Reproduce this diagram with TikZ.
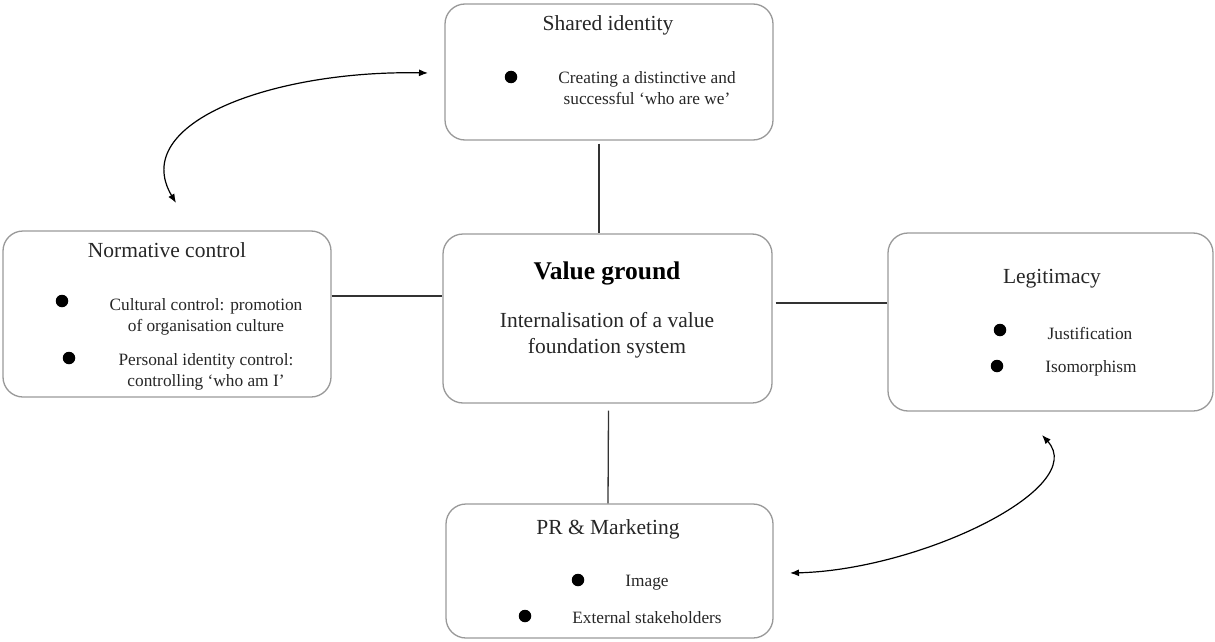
\documentclass[tikz,border=0pt]{standalone}
\usepackage{fontspec}
\setmainfont{Liberation Serif}
\usetikzlibrary{arrows.meta}
\begin{document}
\begin{tikzpicture}[x=1pt,y=-1pt,
  box/.style={draw=black!40,line width=1.3pt,rounded corners=20pt,inner sep=0pt},
  ttl/.style={font=\fontsize{21.5}{26}\selectfont,text=black!85,inner sep=0pt,anchor=center},
  btxt/.style={font=\fontsize{17.3}{21}\selectfont,text=black!85,align=center,inner sep=0pt,anchor=center},
  dot/.style={circle,fill=black,inner sep=0pt,minimum size=12.5pt},
  conn/.style={draw=black!80,line width=1.3pt},
  carr/.style={draw=black,line width=1.2pt,{Latex[length=9pt,width=7pt]}-{Latex[length=9pt,width=7pt]}}]
\useasboundingbox (0,0) rectangle (1215,642);
% boxes
\node[box,minimum width=328pt,minimum height=136pt] (si) at (609,72) {};
\node[box,minimum width=328pt,minimum height=166pt] (nc) at (167,314) {};
\node[box,minimum width=329pt,minimum height=169pt] (vg) at (607.5,318.5) {};
\node[box,minimum width=325pt,minimum height=178pt] (lg) at (1050.5,322) {};
\node[box,minimum width=327pt,minimum height=134pt] (pr) at (609.5,571) {};
% shared identity
\node[ttl] (siT) at (608,25) {Shared identity};
\node[dot] (siD) at (511,77) {};
\node[btxt] (siB) at (647,88) {Creating a distinctive and\\successful ‘who are we’};
% normative control
\node[ttl] (ncT) at (167,250) {Normative control};
\node[dot] (ncD1) at (62,301) {};
\node[btxt] (ncB1) at (206,317) {Cultural control: promotion\\of organisation culture};
\node[dot] (ncD2) at (69,358) {};
\node[btxt] (ncB2) at (206,372) {Personal identity control:\\controlling ‘who am I’};
% value ground
\node[ttl,font=\fontsize{25.5}{30}\selectfont\bfseries,text=black] (vgT) at (607,273) {Value ground};
\node[ttl,align=center,font=\fontsize{21.5}{26}\selectfont] (vgB) at (607,335) {Internalisation of a value\\foundation system};
% legitimacy
\node[ttl] (lgT) at (1052,279) {Legitimacy};
\node[dot] (lgD1) at (1000,330) {};
\node[btxt] (lgB1) at (1090,333) {Justification};
\node[dot] (lgD2) at (997,366) {};
\node[btxt] (lgB2) at (1091,368) {Isomorphism};
% PR
\node[ttl] (prT) at (608,529) {PR \& Marketing};
\node[dot] (prD1) at (578,580) {};
\node[btxt] (prB1) at (647,583) {Image};
\node[dot] (prD2) at (525,616) {};
\node[btxt] (prB2) at (647,618) {External stakeholders};
% connectors
\draw[conn] ([xshift=-10pt,yshift=-3pt]si.south) -- ([xshift=-8.5pt]vg.north);
\draw[conn] ([yshift=18pt]nc.east) -- ([yshift=22.5pt]vg.west);
\draw[conn] ([xshift=3pt,yshift=15.5pt]vg.east) -- ([yshift=19pt]lg.west);
\draw[conn] ([xshift=1pt,yshift=-7pt]vg.south) -- ([xshift=-1.5pt]pr.north);
% curved arrows
\coordinate (a1s) at (428,73);
\coordinate (a1e) at (176,203);
\draw[carr] (a1s) .. controls (275,70) and (128,122) .. (a1e);
\coordinate (a2s) at (790,573);
\coordinate (a2e) at (1042,435);
\draw[carr] (a2s) .. controls (920,570) and (1090,488) .. (a2e);
\end{tikzpicture}
\end{document}
